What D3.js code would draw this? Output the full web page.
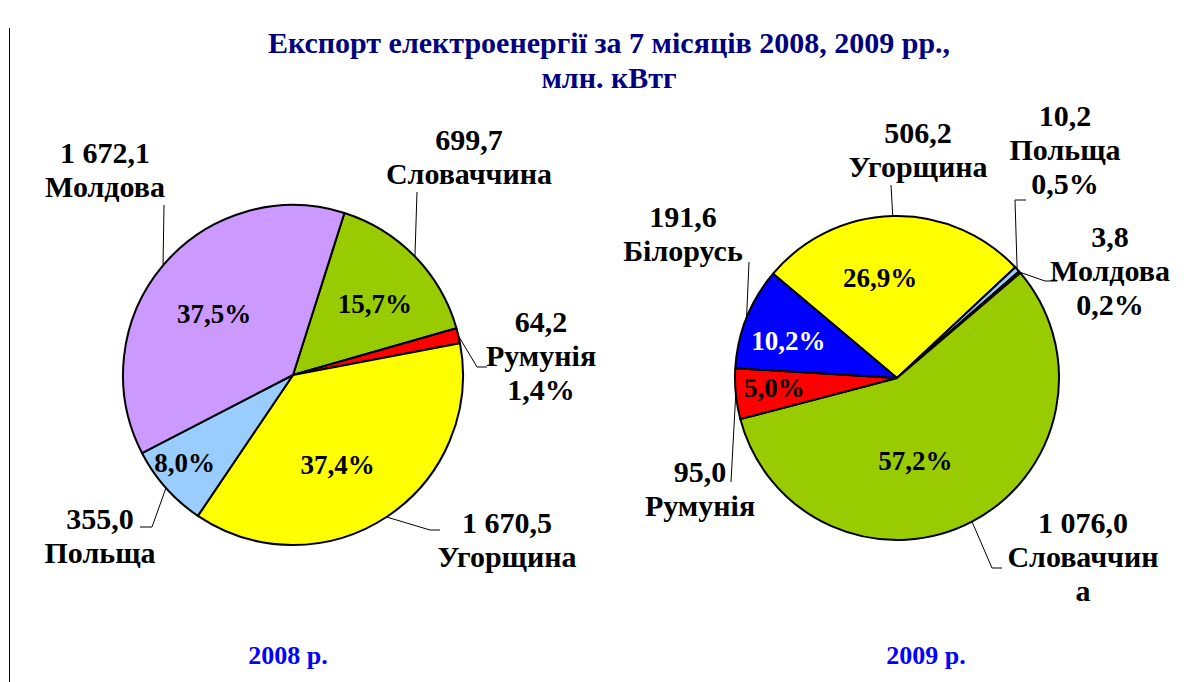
<!DOCTYPE html>
<html>
<head>
<meta charset="utf-8">
<script src="https://cdn.jsdelivr.net/npm/d3@7"></script>
<style>
    body { margin: 0; background: #fff; }
    text { font-family: "Liberation Serif", "Times New Roman", serif; font-weight: bold; }
</style>
</head>
<body>
<div id="chart"></div>
<script>
// data
const titleLines = ['Експорт електроенергії за 7 місяців 2008, 2009 рр.,', 'млн. кВтг'];
const yearLabels = ['2008 р.', '2009 р.'];

const countries2008 = ['Словаччина', 'Румунія', 'Угорщина', 'Польща', 'Молдова'];
const values2008 = [699.7, 64.2, 1670.5, 355.0, 1672.1];
const shares2008 = [15.7, 1.4, 37.4, 8.0, 37.5];

const countries2009 = ['Угорщина', 'Польща', 'Молдова', 'Словаччина', 'Румунія', 'Білорусь'];
const values2009 = [506.2, 10.2, 3.8, 1076.0, 95.0, 191.6];
const shares2009 = [26.9, 0.5, 0.2, 57.2, 5.0, 10.2];

const countryColors = {
    'Молдова': '#CC99FF',
    'Словаччина': '#99CC00',
    'Румунія': '#FF0000',
    'Угорщина': '#FFFF00',
    'Польща': '#99CCFF',
    'Білорусь': '#0000FF'
};

// label layout (positions only)
// outer: block centre x, first baseline y, leader bend points, pctOut, wrap
// inner: radius factor and angle tweak (deg) for the percentage
const layout2008 = {
    cx: 293, cy: 375, r: 170, start: 17.6, yearX: 288,
    labels: {
        'Молдова':    { x: 105, y: 163, lead: [[164, 205]], inner: [0.59, -2] },
        'Словаччина': { x: 469, y: 150, lead: [[417, 192]], inner: [0.64, 3] },
        'Румунія':    { x: 541, y: 332, lead: [[477, 367], [487, 367]], pctOut: true },
        'Угорщина':   { x: 507, y: 533, lead: [[430, 530], [440, 530]], inner: [0.59, 7] },
        'Польща':     { x: 100, y: 529, lead: [[152, 527], [140, 527]], inner: [0.82, 2.6] }
    }
};
const layout2009 = {
    cx: 897, cy: 378, r: 162, start: -49.9, yearX: 926,
    labels: {
        'Угорщина':   { x: 918, y: 143, lead: [[891, 185]], inner: [0.63, -8] },
        'Польща':     { x: 1065, y: 126, lead: [[1015, 200], [1026, 200]], pctOut: true },
        'Молдова':    { x: 1110, y: 247, lead: [[1045, 281], [1057, 281]], pctOut: true },
        'Словаччина': { x: 1083, y: 533, lead: [[992, 568], [1002, 568]], inner: [0.52, 15], wrap: 9 },
        'Румунія':    { x: 700, y: 482, lead: [[731, 482]], inner: [0.76, 1] },
        'Білорусь':   { x: 683, y: 227, lead: [[749, 262]], inner: [0.71, -2.6], innerFill: '#fff' }
    }
};

const width = 1202, height = 682;
const lineH = 34;

const locale = d3.formatLocale({ decimal: ',', thousands: ' ', grouping: [3], currency: ['', ''] });
const fmtVal = locale.format(',.1f');
const fmtPct = v => locale.format('.1f')(v) + '%';

const svg = d3.select('#chart').append('svg')
    .attr('width', width)
    .attr('height', height);

svg.append('rect').attr('width', width).attr('height', height).attr('fill', '#fff');

// thin frame line on the left
svg.append('line')
    .attr('x1', 9.5).attr('x2', 9.5)
    .attr('y1', 28).attr('y2', height)
    .attr('stroke', '#000').attr('stroke-width', 1);

svg.append('text')
    .attr('x', 609)
    .attr('text-anchor', 'middle')
    .attr('fill', '#000080')
    .style('font-size', '30px')
    .selectAll('tspan')
    .data(titleLines)
    .join('tspan')
    .attr('x', 609)
    .attr('y', (d, i) => 53 + i * 35)
    .text(d => d);

function drawPie(countries, values, shares, lay, yearLabel) {
    let data = countries.map((c, i) => ({ country: c, value: values[i], share: shares[i] }));
    let a0 = lay.start * Math.PI / 180;

    let pie = d3.pie()
        .sort(null)
        .value(d => d.value)
        .startAngle(a0)
        .endAngle(a0 + 2 * Math.PI);
    let arcs = pie(data);

    let arc = d3.arc().innerRadius(0).outerRadius(lay.r);

    let g = svg.append('g')
        .attr('transform', `translate(${lay.cx},${lay.cy})`);

    g.selectAll('path.slice')
        .data(arcs)
        .join('path')
        .attr('class', 'slice')
        .attr('d', arc)
        .attr('fill', d => countryColors[d.data.country])
        .attr('stroke', '#000')
        .attr('stroke-width', 2)
        .attr('stroke-linejoin', 'round');

    // percentages inside the slices
    g.selectAll('text.pct')
        .data(arcs.filter(d => lay.labels[d.data.country].inner))
        .join('text')
        .attr('class', 'pct')
        .attr('text-anchor', 'middle')
        .attr('dy', '0.35em')
        .attr('fill', d => lay.labels[d.data.country].innerFill || '#000')
        .style('font-size', '27px')
        .attr('transform', d => {
            let [f, tweak] = lay.labels[d.data.country].inner;
            let a = (d.startAngle + d.endAngle) / 2 + tweak * Math.PI / 180;
            let rr = lay.r * f;
            return `translate(${rr * Math.sin(a)},${-rr * Math.cos(a)})`;
        })
        .text(d => fmtPct(d.data.share));

    // leader lines
    let line = d3.line();
    svg.selectAll(null)
        .data(arcs)
        .join('path')
        .attr('d', d => {
            let a = (d.startAngle + d.endAngle) / 2;
            let p0 = [lay.cx + lay.r * Math.sin(a), lay.cy - lay.r * Math.cos(a)];
            return line([p0].concat(lay.labels[d.data.country].lead));
        })
        .attr('fill', 'none')
        .attr('stroke', '#000')
        .attr('stroke-width', 1);

    // outer labels: value, country name, maybe percentage
    let labels = svg.selectAll(null)
        .data(arcs)
        .join('text')
        .attr('text-anchor', 'middle')
        .attr('fill', '#000')
        .style('font-size', '30px');

    labels.each(function(d) {
        let l = lay.labels[d.data.country];
        let rows = [fmtVal(d.value)];
        if (l.wrap) {
            rows.push(d.data.country.slice(0, l.wrap), d.data.country.slice(l.wrap));
        } else {
            rows.push(d.data.country);
        }
        if (l.pctOut) rows.push(fmtPct(d.data.share));
        d3.select(this).selectAll('tspan')
            .data(rows)
            .join('tspan')
            .attr('x', l.x)
            .attr('y', (r, i) => l.y + i * lineH)
            .text(r => r);
    });

    svg.append('text')
        .attr('x', lay.yearX)
        .attr('y', 664)
        .attr('text-anchor', 'middle')
        .attr('fill', '#0000FF')
        .style('font-size', '26px')
        .text(yearLabel);
}

drawPie(countries2008, values2008, shares2008, layout2008, yearLabels[0]);
drawPie(countries2009, values2009, shares2009, layout2009, yearLabels[1]);
</script>
</body>
</html>
